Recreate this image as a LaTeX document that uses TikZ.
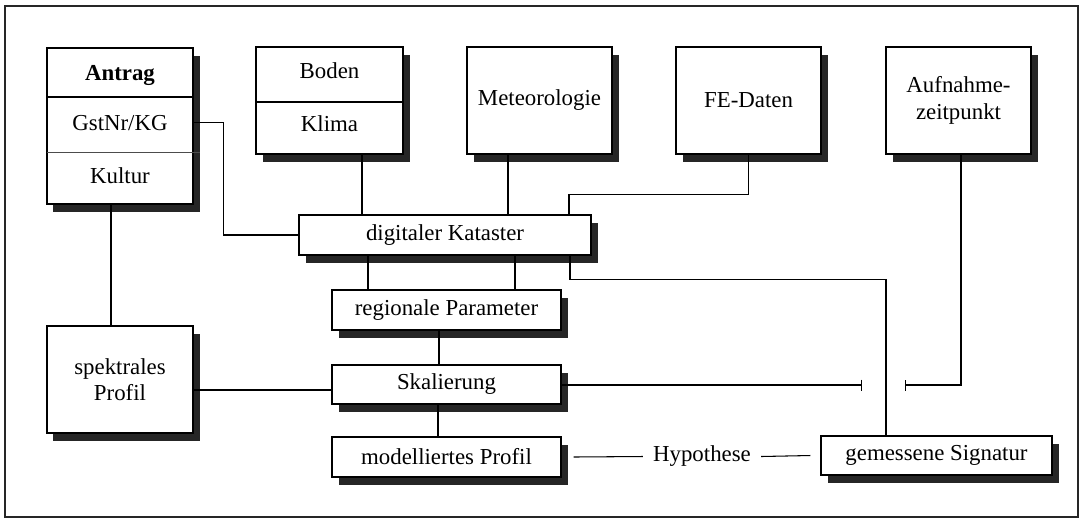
\documentclass[tikz,border=0pt]{standalone}
\usepackage{fontspec}
\setmainfont{Liberation Serif}
\usetikzlibrary{shadows,calc,arrows.meta}
\tikzset{
  kasten/.style={draw, fill=white, line width=0.6pt, inner sep=0pt, align=center,
    drop shadow={shadow xshift=1.3mm, shadow yshift=-1.5mm, fill=black!85, opacity=1}},
  grossbox/.style={kasten, minimum width=29.2mm, minimum height=21.4mm},
  flachbox/.style={kasten, minimum width=45.8mm, minimum height=8mm},
  verbindung/.style={line width=0.6pt},
  sperre/.style={verbindung, -{Bar[width=2.2mm, line width=0.8pt]}}
}

\begin{document}
\begin{tikzpicture}[x=0.2mm, y=-0.2mm, font=\fontsize{13}{15}\selectfont]
  \useasboundingbox (0,0) rectangle (1084,521);
  \draw[line width=1.2pt, black!85] (5,6) rectangle (1078,517);

  % obere Reihe
  \node[kasten, minimum width=29.2mm, minimum height=31.2mm] (antrag) at (120,126) {};
  \draw[line width=1pt] (47,97) -- (193,97);
  \draw[line width=0.4pt, black!70] (47,152) -- (200,152);
  \node[anchor=base] (antragT) at (120,80) {\bfseries Antrag};
  \node[anchor=base] (gstnr) at (120,130) {GstNr/KG};
  \node[anchor=base] (kultur) at (120,183) {Kultur};

  \node[grossbox, minimum width=29.4mm] (boden) at (329.5,100.5) {};
  \draw[line width=0.6pt] (256,102) -- (403,102);
  \node[anchor=base] (bodenT) at (329.5,78) {Boden};
  \node[anchor=base] (klima) at (329.5,131) {Klima};

  \node[grossbox, minimum width=29mm] (meteo) at (539.5,100.5) {Meteorologie};
  \node[grossbox, minimum width=29mm] (fedaten) at (748.5,100.5) {FE-Daten};
  \node[grossbox, minimum width=29mm] (aufnahme) at (958.5,100.5) {Aufnahme-\\zeitpunkt};

  % Mitte
  \node[flachbox, minimum width=58.4mm] (kataster) at (445,235) {digitaler Kataster};
  \node[flachbox] (regional) at (446.5,310) {regionale Parameter};
  \node[flachbox, minimum height=7.8mm] (skalierung) at (446.5,384.5) {Skalierung};
  \node[flachbox] (modell) at (446.5,457) {modelliertes Profil};
  \node[grossbox] (spektral) at (120,379.5) {spektrales\\Profil};
  \node[flachbox, minimum width=46.2mm, minimum height=7.8mm] (gemessen) at (936.5,455.5) {gemessene Signatur};
  \node[inner xsep=2mm] (hypo) at (702,456.5) {Hypothese};

  % Hilfspunkte
  \coordinate (b1) at ($(boden.south)+(32.5,0)$);
  \coordinate (m1) at ($(meteo.south)+(-31.5,0)$);
  \coordinate (r1) at ($(kataster.south)+(-77,0)$);
  \coordinate (r2) at ($(kataster.south)+(70,0)$);
  \coordinate (s1) at ($(regional.south)+(-7.5,0)$);
  \coordinate (s2) at ($(skalierung.south)+(-8.5,0)$);
  \coordinate (p1) at ($(spektral.east)+(0,10.5)$);
  \coordinate (tickL) at (862,385);
  \coordinate (tickR) at (905,385);

  % Verbindungen
  \draw[verbindung] ([xshift=-1.8mm]antrag.south) -- ([xshift=-1.8mm]spektral.north);
  \draw[verbindung] (antrag.east |- gstnr) -- ++(30,0) |- (kataster.west);
  \draw[verbindung] (b1) -- (b1 |- kataster.north);
  \draw[verbindung] (m1) -- (m1 |- kataster.north);
  \draw[verbindung] (fedaten.south) -- ++(0,40) -| ($(kataster.north)+(124,0)$);
  \draw[verbindung] ($(kataster.south)+(125,0)$) -- ++(0,24) -| ($(gemessen.north)+(-50.5,0)$);
  \draw[verbindung] (r1) -- (r1 |- regional.north);
  \draw[verbindung] (r2) -- (r2 |- regional.north);
  \draw[verbindung] (s1) -- (s1 |- skalierung.north);
  \draw[verbindung] (s2) -- (s2 |- modell.north);
  \draw[verbindung] (p1) -- (p1 -| skalierung.west);
  \draw[sperre] (skalierung.east |- tickL) -- (tickL);
  \draw[sperre] ($(aufnahme.south)+(2.5,0)$) |- (tickR);
  \draw[verbindung] ([xshift=2.4mm]modell.east) -- (hypo.west);
  \draw[verbindung] (hypo.east) -- ([xshift=-2mm]gemessen.west);
\end{tikzpicture}
\end{document}
